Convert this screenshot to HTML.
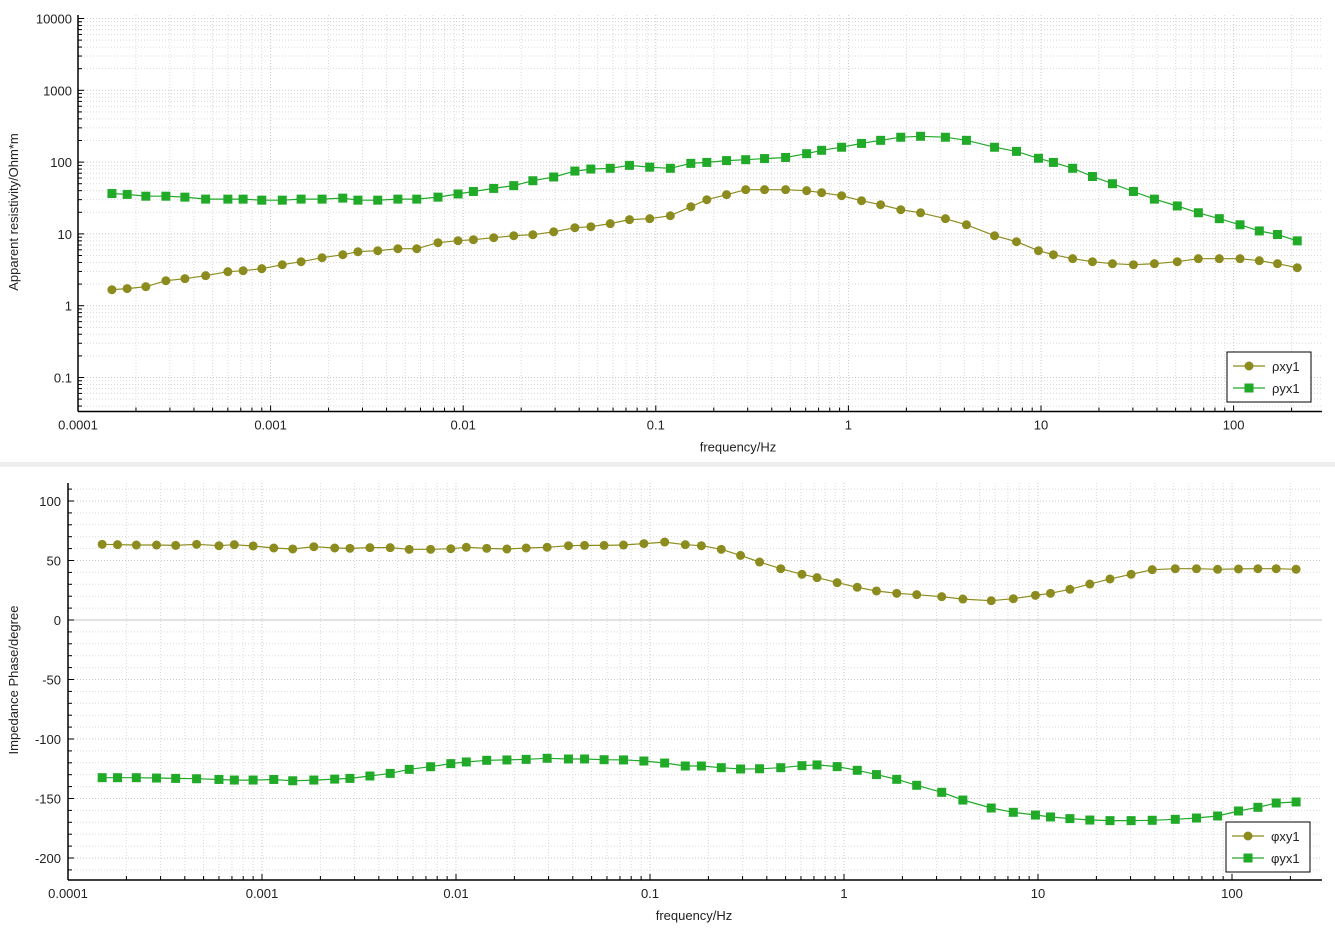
<!DOCTYPE html>
<html><head><meta charset="utf-8"><style>
html,body{margin:0;padding:0;background:#fff;}
svg{display:block;font-family:"Liberation Sans",sans-serif;}
</style></head><body>
<svg id="chart" width="1335" height="931" viewBox="0 0 1335 931" xmlns="http://www.w3.org/2000/svg">
<rect x="0" y="462" width="1335" height="5" fill="#eeeeee"/>
<g id="top"></g>
<g id="bot"></g>
</svg>
<script>
const freqs=[1.5e-4,1.8e-4,2.25e-4,2.86e-4,3.59e-4,4.6e-4,6.0e-4,7.2e-4,9.0e-4,1.15e-3,1.44e-3,1.85e-3,2.37e-3,2.84e-3,3.6e-3,4.58e-3,5.74e-3,7.4e-3,9.4e-3,0.0113,0.0144,0.0183,0.023,0.0295,0.038,0.046,0.058,0.073,0.093,0.119,0.152,0.184,0.233,0.293,0.367,0.472,0.607,0.726,0.922,1.17,1.47,1.87,2.37,3.19,4.10,5.74,7.46,9.7,11.6,14.6,18.5,23.5,30.2,38.8,51,65.6,84.3,108,136,169,214];
const rhoXY=[1.67,1.73,1.84,2.23,2.38,2.62,2.98,3.07,3.28,3.72,4.10,4.66,5.13,5.65,5.83,6.22,6.22,7.54,8.04,8.30,8.85,9.44,9.75,10.7,12.2,12.6,13.9,15.8,16.3,17.9,23.9,29.9,35.2,41.3,41.3,41.3,40,37.5,34,29,25.5,21.7,19.7,16.3,13.4,9.44,7.79,5.83,5.13,4.52,4.10,3.85,3.72,3.85,4.10,4.52,4.52,4.52,4.24,3.85,3.38];
const rhoYX=[36.5,35.5,33.5,33.5,32.5,30.5,30.5,30.5,29.5,29.5,30.5,30.5,31.5,29.5,29.5,30.5,30.5,32.5,36,39,43,47,55,62,75,80,82,90,85,82,96,99,105,108,112,116,131,146,161,182,201,222,229,222,201,161,141,113,99,82,63,50,39,30.5,24.5,19.7,16.3,13.4,11.0,9.8,8.0];
const phiXY=[63.6,63.3,63.0,63.0,62.7,63.6,62.4,63.3,62.2,60.5,59.7,61.6,60.5,60.2,60.8,60.8,59.4,59.4,59.9,61.1,60.2,59.7,60.5,61.1,62.4,62.7,62.7,63.0,64.2,65.5,63.3,62.4,59.4,54.3,48.7,43.1,38.4,35.6,31.4,27.5,24.4,22.4,21.3,19.6,17.6,16.2,17.9,20.7,22.4,25.8,30.2,34.5,38.4,42.3,43.1,43.1,42.6,42.9,43.1,43.1,42.6];
const phiYX=[-132.5,-132.5,-132.5,-132.8,-133.1,-133.4,-134,-134.5,-134.5,-134,-135.1,-134.5,-133.7,-133.1,-131.1,-128.9,-125.5,-123.3,-120.7,-119.3,-117.9,-117.6,-117.1,-116.2,-116.8,-116.8,-117.4,-117.6,-118.5,-120.2,-122.7,-122.7,-124.1,-125.2,-125,-124.1,-122.4,-121.8,-123.2,-126.3,-129.9,-133.9,-138.9,-144.8,-151.3,-158,-161.6,-163.9,-165.5,-166.9,-168.1,-168.6,-168.6,-168.3,-167.5,-166.4,-164.7,-160.5,-157.4,-153.8,-152.9];
const xTickLabels=["0.0001","0.001","0.01","0.1","1","10","100"];
const rhoTickLabels=["0.1","1","10","100","1000","10000"];
const phiTickLabels=["-200","-150","-100","-50","0","50","100"];

const NS="http://www.w3.org/2000/svg";
const OLIVE="#8c8c1e",GREEN="#20aa28";
function mk(p,tag,at){const e=document.createElementNS(NS,tag);for(const k in at)e.setAttribute(k,at[k]);p.appendChild(e);return e;}

function buildChart(g,cfg){
  const L=cfg.left,R=cfg.right,T=cfg.top,B=cfg.bottom;
  const xs=v=>L+(Math.log10(v)+4)*cfg.xDec;
  const ys=cfg.ys;
  const grid=mk(g,'g',{});
  
  
  // vertical grid
  for(let d=-4;d<=2;d++){for(let m=1;m<=9;m++){const v=m*Math.pow(10,d);const x=xs(v);if(x>R)break;
    const ln=mk(grid,'line',{x1:x,x2:x,y1:T,y2:B,stroke:m==1?'#c8c8c8':'#dadada','stroke-width':1,'stroke-dasharray':'1,2'});}}
  cfg.hGrid(grid,ys,L,R);
  // axes
  const ax=mk(g,'g',{});
  
  
  mk(ax,'line',{x1:L,x2:L,y1:T,y2:B,stroke:'#000','stroke-width':1.5});
  mk(ax,'line',{x1:L,x2:R,y1:B,y2:B,stroke:'#000','stroke-width':1.5});
  for(let d=-4;d<=2;d++){for(let m=1;m<=9;m++){const v=m*Math.pow(10,d);const x=xs(v);if(x>R)break;
    mk(ax,'line',{x1:x,x2:x,y1:B,y2:B-(m==1?6:4),stroke:'#000','stroke-width':1});}}
  xTickLabels.forEach((t,i)=>{const x=xs(Math.pow(10,i-4));const tx=mk(ax,'text',{x:x,y:B+18,'font-size':13,'text-anchor':'middle',fill:'#222'});tx.textContent=t;
    
    });
  cfg.yTicks(ax,ys,L);
  const xt=mk(g,'text',{x:(L+R)/2+cfg.xtOff,y:B+40,'font-size':13,'text-anchor':'middle',fill:'#222'});xt.textContent='frequency/Hz';
  
  
  const yt=mk(g,'text',{x:0,y:0,'font-size':13,'text-anchor':'middle',fill:'#222',transform:`translate(18,${cfg.ytY}) rotate(-90)`});yt.textContent=cfg.yTitle;
  
  
  // series
  cfg.series.forEach(s=>{
    const sg=mk(g,'g',{});
    
    
    const pts=freqs.map((f,i)=>xs(f).toFixed(1)+','+ys(s.data[i]).toFixed(1)).join(' ');
    mk(sg,'polyline',{points:pts,fill:'none',stroke:s.color,'stroke-width':1.2});
    freqs.forEach((f,i)=>{const x=xs(f),y=ys(s.data[i]);let m;
      if(s.shape=='c')m=mk(sg,'circle',{cx:x,cy:y,r:4.5,fill:s.color});
      else m=mk(sg,'rect',{x:x-4.5,y:y-4.5,width:9,height:9,fill:s.color});
      
      });
  });
  // legend
  const lg=mk(g,'g',{});
  
  
  const lx=cfg.legX,ly=cfg.legY;
  mk(lg,'rect',{x:lx,y:ly,width:84,height:50,fill:'#fff',stroke:'#000','stroke-width':1});
  cfg.series.forEach((s,i)=>{const y=ly+14+i*22;
    const e=mk(lg,'g',{});
    
    
    mk(e,'line',{x1:lx+6,x2:lx+38,y1:y,y2:y,stroke:s.color,'stroke-width':1.2});
    if(s.shape=='c')mk(e,'circle',{cx:lx+22,cy:y,r:4.5,fill:s.color});else mk(e,'rect',{x:lx+17.5,y:y-4.5,width:9,height:9,fill:s.color});
    const t=mk(e,'text',{x:lx+45,y:y+5,'font-size':13,fill:'#222'});t.textContent=s.label;});
}

// top chart
buildChart(document.getElementById('top'),{
  left:78,right:1322,top:15,bottom:411.5,xDec:192.6,xtOff:38,ytY:212,
  ys:v=>305.7-Math.log10(v)*71.8,
  yTitle:'Apparent resistivity/Ohm*m',
  hGrid:(g,ys,L,R)=>{for(let d=-2;d<=4;d++){for(let m=1;m<=9;m++){const y=ys(m*Math.pow(10,d));if(y<15||y>411)continue;
      mk(g,'line',{x1:L,x2:R,y1:y,y2:y,stroke:m==1?'#c8c8c8':'#dadada','stroke-width':1,'stroke-dasharray':'1,2'});}}},
  yTicks:(ax,ys,L)=>{for(let d=-2;d<=4;d++){for(let m=1;m<=9;m++){const y=ys(m*Math.pow(10,d));if(y<15||y>411)continue;
      mk(ax,'line',{x1:L,x2:L+(m==1?6:4),y1:y,y2:y,stroke:'#000','stroke-width':1});}}
    rhoTickLabels.forEach((t,i)=>{const tx=mk(ax,'text',{x:L-6,y:ys(Math.pow(10,i-1))+5,'font-size':13,'text-anchor':'end',fill:'#222'});tx.textContent=t;
      
      });},
  series:[{name:'rho-xy',label:'ρxy1',data:rhoXY,color:OLIVE,shape:'c'},{name:'rho-yx',label:'ρyx1',data:rhoYX,color:GREEN,shape:'s'}],
  legX:1227,legY:352
});
// bottom chart
buildChart(document.getElementById('bot'),{
  left:68,right:1322,top:483,bottom:880,xDec:194,xtOff:-1,ytY:680,
  ys:v=>620-v*1.19,
  yTitle:'Impedance Phase/degree',
  hGrid:(g,ys,L,R)=>{for(let v=-210;v<=110;v+=10){const y=ys(v);if(y<483||y>880)continue;
      mk(g,'line',v==0?{x1:L,x2:R,y1:y,y2:y,stroke:'#c4c4c4','stroke-width':1}:{x1:L,x2:R,y1:y,y2:y,stroke:v%50==0?'#c8c8c8':'#dadada','stroke-width':1,'stroke-dasharray':'1,2'});}},
  yTicks:(ax,ys,L)=>{for(let v=-210;v<=110;v+=10){const y=ys(v);if(y<483||y>880)continue;
      mk(ax,'line',{x1:L,x2:L+(v%50==0?6:4),y1:y,y2:y,stroke:'#000','stroke-width':1});}
    phiTickLabels.forEach(t=>{const tx=mk(ax,'text',{x:L-7,y:ys(+t)+5,'font-size':13,'text-anchor':'end',fill:'#222'});tx.textContent=t;
      
      });},
  series:[{name:'phi-xy',label:'φxy1',data:phiXY,color:OLIVE,shape:'c'},{name:'phi-yx',label:'φyx1',data:phiYX,color:GREEN,shape:'s'}],
  legX:1226,legY:822
});
</script>
</body></html>
